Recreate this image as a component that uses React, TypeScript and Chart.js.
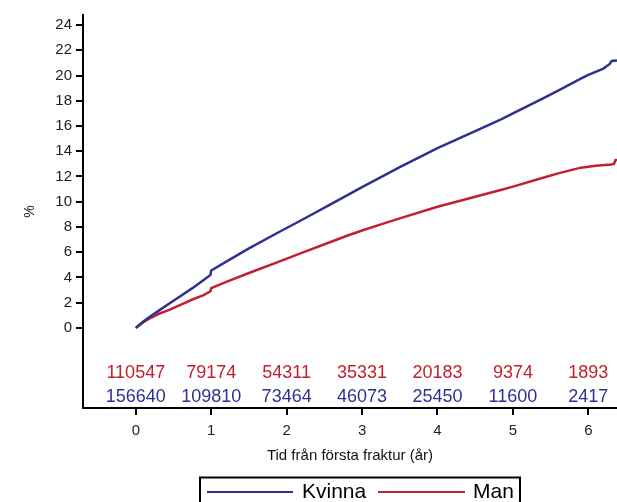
import React, { useEffect, useRef } from "react";
import { Chart, registerables } from "chart.js";

Chart.register(...registerables);

const timeKvinna = [0, 0.1, 0.2, 0.3, 0.45, 0.6, 0.75, 0.9, 0.99, 1.0, 1.2, 1.5, 1.9, 2.2, 2.6, 3.0, 3.5, 4.0, 4.5, 4.85, 5.0, 5.4, 5.6, 5.9, 6.0, 6.2, 6.28, 6.31, 6.38];
const kvinna = [0, 0.5, 0.95, 1.35, 1.95, 2.55, 3.15, 3.8, 4.2, 4.55, 5.25, 6.3, 7.6, 8.55, 9.85, 11.15, 12.75, 14.25, 15.6, 16.55, 17.0, 18.2, 18.8, 19.75, 20.05, 20.55, 20.9, 21.15, 21.2];

const timeMan = [0, 0.1, 0.2, 0.3, 0.45, 0.6, 0.75, 0.9, 0.99, 1.0, 1.2, 1.5, 1.9, 2.2, 2.6, 2.8, 3.0, 3.25, 3.5, 4.0, 4.5, 4.85, 5.0, 5.4, 5.6, 5.9, 6.1, 6.3, 6.34, 6.36, 6.38];
const man = [0, 0.45, 0.8, 1.1, 1.45, 1.85, 2.25, 2.6, 2.9, 3.15, 3.65, 4.35, 5.25, 5.95, 6.85, 7.3, 7.72, 8.2, 8.68, 9.6, 10.4, 10.95, 11.2, 11.9, 12.25, 12.7, 12.85, 12.95, 13.0, 13.3, 13.3];

const years = [0, 1, 2, 3, 4, 5, 6];
const atRiskMan = ["110547", "79174", "54311", "35331", "20183", "9374", "1893"];
const atRiskKvinna = ["156640", "109810", "73464", "46073", "25450", "11600", "2417"];
const yTicks = [0, 2, 4, 6, 8, 10, 12, 14, 16, 18, 20, 22, 24];

const BLUE = "#2e3192";
const RED = "#c1202f";
const FONT = "Arial, 'Liberation Sans', sans-serif";

const atRiskPlugin = {
  id: "atRisk",
  afterDraw(chart: any) {
    const ctx = chart.ctx;
    const xs = chart.scales.x;
    const ys = chart.scales.y;
    ctx.save();
    ctx.font = `18px ${FONT}`;
    ctx.textAlign = "center";
    ctx.textBaseline = "middle";
    years.forEach((yr, i) => {
      const px = xs.getPixelForValue(yr);
      ctx.fillStyle = RED;
      ctx.fillText(atRiskMan[i], px, ys.getPixelForValue(-3.6));
      ctx.fillStyle = BLUE;
      ctx.fillText(atRiskKvinna[i], px, ys.getPixelForValue(-5.5));
    });
    ctx.restore();
  },
};

const legendPlugin = {
  id: "boxLegend",
  afterDraw(chart: any) {
    const ctx = chart.ctx;
    ctx.save();
    ctx.strokeStyle = "#000";
    ctx.lineWidth = 2;
    ctx.strokeRect(200, 477.5, 320, 40);
    const ly = 492;
    ctx.strokeStyle = BLUE;
    ctx.beginPath();
    ctx.moveTo(207, ly);
    ctx.lineTo(293, ly);
    ctx.stroke();
    ctx.strokeStyle = RED;
    ctx.beginPath();
    ctx.moveTo(378, ly);
    ctx.lineTo(465, ly);
    ctx.stroke();
    ctx.fillStyle = "#000";
    ctx.font = `21px ${FONT}`;
    ctx.textAlign = "left";
    ctx.textBaseline = "middle";
    ctx.fillText("Kvinna", 302, ly);
    ctx.fillText("Man", 473, ly);
    ctx.restore();
  },
};

export default function App() {
  const ref = useRef<HTMLCanvasElement>(null);
  useEffect(() => {
    if (!ref.current) return;
    const chart = new Chart(ref.current, {
      type: "line",
      data: {
        datasets: [
          {
            label: "Kvinna",
            data: timeKvinna.map((t, i) => ({ x: t, y: kvinna[i] })),
            borderColor: BLUE,
            borderWidth: 2.5,
            pointRadius: 0,
            tension: 0,
          },
          {
            label: "Man",
            data: timeMan.map((t, i) => ({ x: t, y: man[i] })),
            borderColor: RED,
            borderWidth: 2.5,
            pointRadius: 0,
            tension: 0,
          },
        ],
      },
      options: {
        animation: false,
        responsive: false,
        layout: { padding: { top: 15, right: 0, left: 0, bottom: 34 } },
        plugins: { legend: { display: false }, tooltip: { enabled: false } },
        scales: {
          x: {
            type: "linear",
            min: -0.7,
            max: 6.38,
            afterBuildTicks: (s: any) => {
              s.ticks = years.map((v) => ({ value: v }));
            },
            afterFit: (s: any) => {
              s.height = 60;
            },
            grid: {
              display: true,
              drawOnChartArea: false,
              drawTicks: true,
              tickLength: 7,
              color: "#000",
              lineWidth: 2,
            },
            border: { display: true, color: "#000", width: 2 },
            ticks: {
              color: "#222",
              padding: 7,
              font: { family: FONT, size: 15 },
              maxRotation: 0,
            },
            title: {
              display: true,
              text: "Tid från första fraktur (år)",
              color: "#111",
              font: { family: FONT, size: 15 },
              padding: { top: 6, bottom: 3 },
            },
          },
          y: {
            type: "linear",
            min: -6.35,
            max: 24.8,
            afterBuildTicks: (s: any) => {
              s.ticks = yTicks.map((v) => ({ value: v }));
            },
            afterFit: (s: any) => {
              s.width = 83;
            },
            grid: {
              display: true,
              drawOnChartArea: false,
              drawTicks: true,
              tickLength: 7,
              color: "#000",
              lineWidth: 2,
            },
            border: { display: true, color: "#000", width: 2 },
            ticks: {
              color: "#222",
              padding: 4,
              font: { family: FONT, size: 15 },
            },
            title: {
              display: true,
              text: "%",
              color: "#222",
              font: { family: FONT, size: 14 },
              padding: { top: 22, bottom: 0 },
            },
          },
        },
      },
      plugins: [atRiskPlugin, legendPlugin],
    });
    return () => chart.destroy();
  }, []);
  return (
    <div style={{ position: "absolute", left: 0, top: 0, width: 617, height: 502, background: "#fff" }}>
      <canvas ref={ref} width={617} height={502} />
    </div>
  );
}
